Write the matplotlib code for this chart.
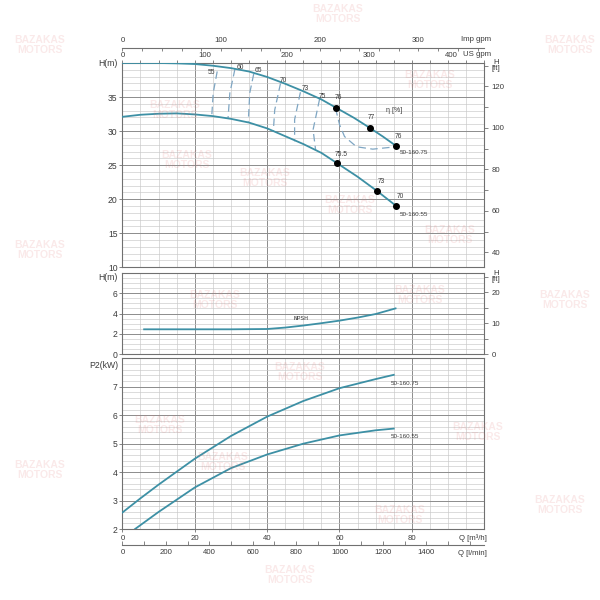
import numpy as np
import matplotlib.pyplot as plt
from matplotlib.ticker import MultipleLocator

plt.rcParams['font.family'] = ['Liberation Sans', 'DejaVu Sans']

# head curves, Q in m3/h, H in m
q_75 = [0, 10, 15, 20, 25, 30, 35, 40, 45, 50, 55, 59, 64, 68.3, 72, 75.7]
h_75 = [40.0, 40.0, 39.95, 39.85, 39.6, 39.25, 38.75, 37.95, 36.95, 35.85,
        34.65, 33.45, 31.95, 30.5, 29.2, 27.8]
q_55 = [0, 5, 10, 15, 20, 25, 30, 35, 40, 45, 50, 55, 59.3, 65, 70.4, 75.7]
h_55 = [32.1, 32.4, 32.55, 32.6, 32.45, 32.2, 31.8, 31.25, 30.4, 29.25,
        28.1, 26.8, 25.3, 23.3, 21.2, 19.0]

# efficiency points on the head curves
eta_q_75 = [59, 68.3, 75.7]
eta_h_75 = [33.45, 30.5, 27.8]
eta_lab_75 = ['76', '77', '76']
eta_q_55 = [59.3, 70.4, 75.7]
eta_h_55 = [25.3, 21.2, 19.0]
eta_lab_55 = ['75.5', '73', '70']

# iso efficiency lines (dashed)
iso_labels = ['55', '60', '65', '70', '73', '75']
iso_q = [[26.2, 25.1, 24.7], [31.1, 29.7, 29.2], [36.3, 35.2, 34.8],
         [43.7, 42.1, 41.7], [49.2, 47.6, 47.6], [54.5, 52.7, 53.4]]
iso_h = [[38.76, 35.6, 32.25], [39.1, 35.6, 31.9], [38.4, 35.6, 31.4],
         [37.0, 33.1, 29.9], [35.7, 31.7, 28.5], [34.7, 30.2, 27.25]]
iso_lab_q = [24.5, 32.7, 37.7, 44.6, 50.6, 55.3]
iso_lab_h = [38.55, 39.4, 38.9, 37.4, 36.2, 35.1]
loop_q = [58.9, 60.05, 61.4, 64.7, 69.2, 75.7]
loop_h = [33.35, 30.9, 29.2, 27.7, 27.35, 27.7]

# NPSH
q_npsh = [6, 10, 20, 30, 40, 45, 50, 55, 60, 65, 70, 75.5]
npsh = [2.45, 2.45, 2.45, 2.45, 2.48, 2.62, 2.82, 3.05, 3.3, 3.6, 3.95, 4.5]

# power P2 in kW
q_p75 = [0, 5, 10, 20, 30, 40, 50, 60, 70, 75]
p_75 = [2.58, 3.08, 3.56, 4.47, 5.27, 5.95, 6.5, 6.95, 7.27, 7.42]
q_p55 = [3.5, 10, 20, 30, 40, 50, 60, 70, 75]
p_55 = [2.0, 2.6, 3.46, 4.14, 4.62, 5.0, 5.29, 5.47, 5.53]

head_ticks = [10, 15, 20, 25, 30, 35]
npsh_ticks = [0, 2, 4, 6]
p_ticks = [2, 3, 4, 5, 6, 7]
q_ticks = [0, 20, 40, 60, 80]
lmin_ticks = [0, 200, 400, 600, 800, 1000, 1200, 1400]
usgpm_ticks = [0, 100, 200, 300, 400]
impgpm_ticks = [0, 100, 200, 300]

curve_col = '#3d90a5'
dash_col = '#7fa6c3'
txt = '#3a3a3a'
spine_col = '#707070'
fs_left = 6.2
fs_ax = 5.6
fs_small = 4.8

fig = plt.figure(figsize=(6, 6), dpi=100)
L, W = 0.204, 0.603
ax_h = fig.add_axes([L, 0.5545, W, 0.3405])
ax_n = fig.add_axes([L, 0.4095, W, 0.136])
ax_p = fig.add_axes([L, 0.1183, W, 0.2845])


def style(ax, ylim, ticks, yminor, unit, unit_y):
    ax.set_xlim(0, 100)
    ax.set_ylim(*ylim)
    ax.set_yticks(ticks)
    ax.xaxis.set_major_locator(MultipleLocator(20))
    ax.xaxis.set_minor_locator(MultipleLocator(5))
    ax.yaxis.set_minor_locator(MultipleLocator(yminor))
    ax.grid(which='major', color='#8c8c8c', lw=0.7)
    ax.grid(which='minor', color='#c8c8c8', lw=0.45)
    ax.set_axisbelow(True)
    for s in ax.spines.values():
        s.set_color(spine_col)
        s.set_linewidth(0.8)
    ax.tick_params(axis='both', which='both', colors=spine_col, labelcolor=txt,
                   labelsize=fs_left, length=2.5, width=0.6, pad=1)
    ax.tick_params(axis='y', which='minor', length=0)
    ax.tick_params(axis='x', which='both', bottom=False, labelbottom=False)
    ax.text(-0.012, unit_y, unit, transform=ax.transAxes, fontsize=fs_left,
            color=txt, ha='right', va='center')


def ft_axis(ax, ticks, minor, unit_y):
    sec = ax.secondary_yaxis('right', functions=(lambda m: m * 3.28084,
                                                 lambda f: f / 3.28084))
    sec.set_yticks(ticks)
    sec.yaxis.set_minor_locator(MultipleLocator(minor))
    sec.tick_params(which='both', colors=spine_col, labelcolor=txt,
                    labelsize=fs_ax, length=3, width=0.6, pad=2.5)
    sec.spines['right'].set_visible(False)
    ax.text(1.032, unit_y, 'H\n[ft]', transform=ax.transAxes, fontsize=fs_ax,
            color=txt, ha='center', va='center', linespacing=0.85)
    return sec


# head panel
style(ax_h, (10, 40), head_ticks, 1, 'H(m)', 0.997)
ax_h.tick_params(axis='x', which='both', top=True, length=2)
ax_h.plot(q_75, h_75, color=curve_col, lw=1.3, zorder=3)
ax_h.plot(q_55, h_55, color=curve_col, lw=1.3, zorder=3)
for qs, hs in zip(iso_q, iso_h):
    ax_h.plot(qs, hs, color=dash_col, lw=0.9, ls=(0, (6, 3.5)), zorder=2)
ax_h.plot(loop_q, loop_h, color=dash_col, lw=0.9, ls=(0, (6, 3.5)), zorder=2)
for lab, q, h in zip(iso_labels, iso_lab_q, iso_lab_h):
    ax_h.text(q, h, lab, fontsize=fs_small, color=txt, ha='center', va='center')
ax_h.plot(eta_q_75, eta_h_75, 'o', color='black', ms=4, zorder=4)
ax_h.plot(eta_q_55, eta_h_55, 'o', color='black', ms=4, zorder=4)
for lab, q, h in zip(eta_lab_75, eta_q_75, eta_h_75):
    ax_h.annotate(lab, (q, h), xytext=(1.5, 4.5), textcoords='offset points',
                  fontsize=fs_small, color=txt, ha='center', va='bottom')
for lab, q, h in zip(eta_lab_55, eta_q_55, eta_h_55):
    ax_h.annotate(lab, (q, h), xytext=(3, 4), textcoords='offset points',
                  fontsize=fs_small, color=txt, ha='center', va='bottom')
ax_h.text(75.2, 33.0, 'η [%]', fontsize=5, color=txt, ha='center', va='center')
ax_h.text(76.6, 26.8, '50-160.75', fontsize=4.5, color=txt, ha='left', va='center')
ax_h.text(76.6, 17.8, '50-160.55', fontsize=4.5, color=txt, ha='left', va='center')

ft_axis(ax_h, [40, 60, 80, 100, 120], 10, 0.988)

sec_us = ax_h.secondary_xaxis('top', functions=(lambda q: q / 0.227125,
                                                lambda g: g * 0.227125))
sec_us.set_xticks(usgpm_ticks)
sec_us.tick_params(length=0, pad=3, labelsize=fs_ax, labelcolor=txt)
sec_us.spines['top'].set_visible(False)
ax_h.text(1.019, 1.04, 'US gpm', transform=ax_h.transAxes, fontsize=fs_ax,
          color=txt, ha='right', va='center')

sec_imp = ax_h.secondary_xaxis(1.0735, functions=(lambda q: q / 0.272765,
                                                  lambda g: g * 0.272765))
sec_imp.set_xticks(impgpm_ticks)
sec_imp.xaxis.set_minor_locator(MultipleLocator(20))
sec_imp.tick_params(which='both', direction='in', length=2.5, width=0.6,
                    colors=spine_col, labelcolor=txt, labelsize=fs_ax, pad=3)
sec_imp.spines['top'].set_color(spine_col)
sec_imp.spines['top'].set_linewidth(0.8)
ax_h.text(1.019, 1.117, 'Imp gpm', transform=ax_h.transAxes, fontsize=fs_ax,
          color=txt, ha='right', va='center')

# NPSH panel
style(ax_n, (0, 8), npsh_ticks, 0.5, 'H(m)', 0.947)
ax_n.plot(q_npsh, npsh, color=curve_col, lw=1.3, zorder=3)
ax_n.text(49.5, 3.55, 'NPSH', fontsize=4.5, color=txt, ha='center', va='center',
          family='DejaVu Sans Mono')
ft_axis(ax_n, [0, 10, 20], 5, 0.955)

# power panel
style(ax_p, (2, 8), p_ticks, 0.2, 'P2(kW)', 0.957)
ax_p.set_xticks(q_ticks)
ax_p.tick_params(axis='x', which='major', bottom=True, labelbottom=True,
                 labelsize=fs_ax, length=2, pad=2)
ax_p.plot(q_p75, p_75, color=curve_col, lw=1.3, zorder=3)
ax_p.plot(q_p55, p_55, color=curve_col, lw=1.3, zorder=3)
ax_p.text(74.1, 7.13, '50-160.75', fontsize=4.5, color=txt, ha='left', va='center')
ax_p.text(74.1, 5.26, '50-160.55', fontsize=4.5, color=txt, ha='left', va='center')
ax_p.text(1.008, -0.054, 'Q [m³/h]', transform=ax_p.transAxes, fontsize=fs_ax,
          color=txt, ha='right', va='center')

sec_l = ax_p.secondary_xaxis(-0.094, functions=(lambda q: q * 1000 / 60,
                                                lambda l: l * 0.06))
sec_l.set_xticks(lmin_ticks)
sec_l.xaxis.set_minor_locator(MultipleLocator(100))
sec_l.tick_params(which='both', direction='in', length=3, width=0.6,
                  colors=spine_col, labelcolor=txt, labelsize=fs_ax, pad=3)
sec_l.spines['bottom'].set_color(spine_col)
sec_l.spines['bottom'].set_linewidth(0.8)
ax_p.text(1.008, -0.143, 'Q [l/min]', transform=ax_p.transAxes, fontsize=fs_ax,
          color=txt, ha='right', va='center')

# faint watermark, pixel positions from the top-left corner
marks = [(40, 45), (338, 14), (570, 45), (175, 110), (430, 80), (187, 160),
         (450, 235), (265, 178), (40, 250), (350, 205), (215, 300), (420, 295),
         (565, 300), (300, 372), (160, 425), (478, 432), (223, 462), (40, 470),
         (400, 515), (560, 505), (290, 575)]
for x, y in marks:
    fig.text(x / 600, 1 - y / 600, 'BAZAKAS\nMOTORS', fontsize=7.5,
             fontweight='bold', color='#e07070', alpha=0.15, ha='center',
             va='center', linespacing=0.9, zorder=10)

fig.savefig('out.png', dpi=100)
